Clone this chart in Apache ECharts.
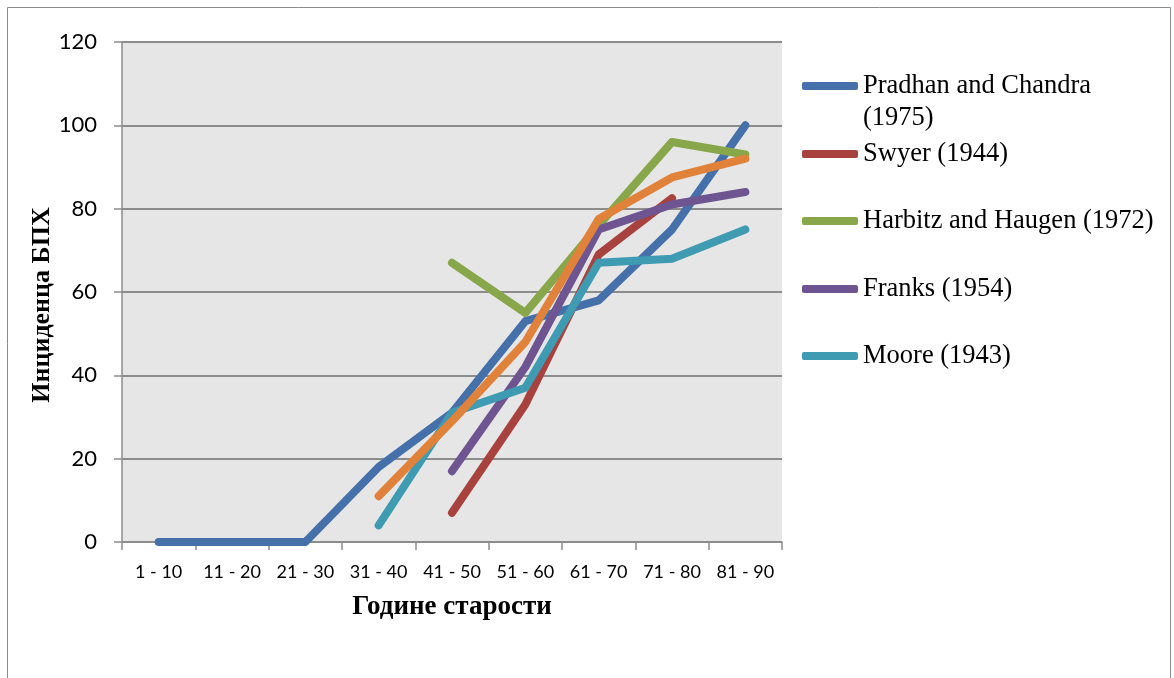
<html>
<head>
<meta charset="utf-8">
<script src="https://cdn.jsdelivr.net/npm/echarts@6/dist/echarts.min.js"></script>
<style>
    body { margin: 0; background: #fff; }
    #graph { width: 1174px; height: 678px; }
</style>
</head>
<body>
<div id="graph"></div>
<script>
    // age groups and incidence values
    var categories = ['1 - 10', '11 - 20', '21 - 30', '31 - 40', '41 - 50', '51 - 60', '61 - 70', '71 - 80', '81 - 90'];
    var pradhan = [0, 0, 0, 18, 31, 53, 58, 75, 100];
    var swyer = [null, null, null, null, 7, 33, 69, 82.5, null];
    var harbitz = [null, null, null, null, 67, 55, 76, 96, 93];
    var franks = [null, null, null, null, 17, 42, 75, 81, 84];
    var moore = [null, null, null, 4, 31, 37, 67, 68, 75];
    var series6 = [null, null, null, 11, 29, 48, 77.5, 87.5, 92];
    var yTicks = [0, 20, 40, 60, 80, 100, 120];

    var names = ['Pradhan and Chandra (1975)', 'Swyer (1944)', 'Harbitz and Haugen (1972)', 'Franks (1954)', 'Moore (1943)', 'Series 6'];
    var colors = ['#4570AA', '#A8423F', '#88A74A', '#6E5591', '#3E9BB1', '#E0823A'];
    var values = [pradhan, swyer, harbitz, franks, moore, series6];

    var legendTops = [38, 138, 205, 273, 340];

    function makeLegend(i) {
        var multi = i === 0;
        return {
            orient: 'vertical',
            left: 802,
            top: legendTops[i],
            padding: 0,
            data: [names[i]],
            icon: 'roundRect',
            itemWidth: 56,
            itemHeight: 8,
            formatter: function (n) {
                // empty first line keeps the icon level with "Pradhan and Chandra"
                return multi ? '\nPradhan and Chandra\n(1975)' : n;
            },
            textStyle: {
                fontFamily: 'Liberation Serif',
                fontSize: 26.5,
                color: '#000',
                lineHeight: 32
            }
        };
    }

    var chart = echarts.init(document.getElementById('graph'));
    var option = {
        animation: false,
        backgroundColor: '#fff',
        graphic: [{
            type: 'rect',
            shape: { x: 7.5, y: 7.5, width: 1163, height: 690 },
            style: { fill: 'none', stroke: '#8c8c8c', lineWidth: 1 },
            silent: true
        }],
        legend: [0, 1, 2, 3, 4].map(makeLegend),
        grid: {
            left: 122, right: 392, top: 42, bottom: 136,
            show: true, backgroundColor: '#E6E6E6', borderWidth: 0
        },
        xAxis: {
            type: 'category',
            data: categories,
            boundaryGap: true,
            name: 'Године старости',
            nameLocation: 'middle',
            nameGap: 52,
            nameTextStyle: { fontFamily: 'Liberation Serif', fontWeight: 'bold', fontSize: 27, color: '#000' },
            axisLine: { lineStyle: { color: '#8c8c8c', width: 1.5 } },
            axisTick: { show: true, length: 8, lineStyle: { color: '#8c8c8c', width: 1.5 } },
            axisLabel: { fontFamily: 'Lato', fontSize: 18, color: '#000', margin: 21, interval: 0 },
            splitLine: { show: false }
        },
        yAxis: {
            type: 'value',
            min: yTicks[0],
            max: yTicks[yTicks.length - 1],
            interval: 20,
            name: 'Инциденца БПХ',
            nameLocation: 'middle',
            nameGap: 67,
            nameMoveOverlap: false,
            nameTextStyle: {
                fontFamily: 'Liberation Serif', fontWeight: 'bold', fontSize: 26, color: '#000',
                padding: [0, 26, 0, 0]
            },
            axisLine: { show: true, lineStyle: { color: '#8c8c8c', width: 1.5 } },
            axisTick: { show: true, length: 8, lineStyle: { color: '#8c8c8c', width: 1.5 } },
            axisLabel: { fontFamily: 'Lato', fontSize: 22, color: '#000', margin: 25 },
            splitLine: { lineStyle: { color: '#8c8c8c', width: 2 } }
        },
        series: values.map(function (v, i) {
            return {
                name: names[i],
                type: 'line',
                data: v,
                symbol: 'none',
                connectNulls: false,
                color: colors[i],
                lineStyle: { width: 8, color: colors[i], cap: 'round', join: 'round' }
            };
        })
    };
    chart.setOption(option);
</script>
</body>
</html>
